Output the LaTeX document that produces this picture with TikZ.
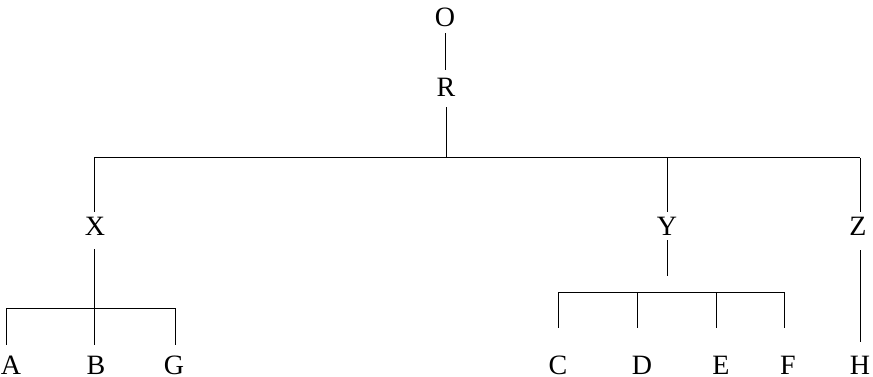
\documentclass[tikz,border=0pt]{standalone}
\usepackage{fontspec}
\setmainfont{Liberation Serif}
\begin{document}
\begin{tikzpicture}[x=1pt,y=-1pt,
  lbl/.style={anchor=base, inner sep=0pt, font=\fontsize{28}{30}\selectfont},
  ln/.style={line width=1pt}]
\useasboundingbox (0,0) rectangle (873,377);
% labels
\node[lbl] (O) at (445,27) {O};
\node[lbl] (R) at (446,97) {R};
\node[lbl] (X) at (95,235) {X};
\node[lbl] (Y) at (667,235) {Y};
\node[lbl] (Z) at (858,235) {Z};
\node[lbl] (A) at (11,374) {A};
\node[lbl] (B) at (96,374) {B};
\node[lbl] (G) at (174,374) {G};
\node[lbl] (C) at (558,374) {C};
\node[lbl] (D) at (642,374) {D};
\node[lbl] (E) at (721,374) {E};
\node[lbl] (F) at (788,374) {F};
\node[lbl] (H) at (860,374) {H};
% junctions
\coordinate (jR) at (446,158);
\coordinate (hL) at (94,158);
\coordinate (jY) at (667,158);
\coordinate (hR) at (860,158);
\coordinate (xB) at (94,308);
\coordinate (xL) at (6,308);
\coordinate (xR) at (175,308);
\coordinate (yEnd) at (667,276);
\coordinate (yL) at (558,292);
\coordinate (yD) at (637,292);
\coordinate (yE) at (716,292);
\coordinate (yR) at (784,292);
% connectors
\draw[ln, shorten <=6pt, shorten >=8.6pt] (O.south) -- (O.south |- R.north);
\draw[ln, shorten <=10pt] (R.south) -- (jR);
\draw[ln] (hL) -- (hR);
\draw[ln, shorten >=4.6pt] (hL) -- (hL |- X.north);
\draw[ln, shorten >=4.6pt] (jY) -- (jY |- Y.north);
\draw[ln, shorten >=4.6pt] (hR) -- (hR |- Z.north);
\draw[ln, shorten <=14pt] (xB |- X.south) -- (xB);
\draw[ln] (xL) -- (xR);
\draw[ln, shorten >=10.6pt] (xL) -- (xL |- A.north);
\draw[ln, shorten >=10.6pt] (xB) -- (xB |- B.north);
\draw[ln, shorten >=10.6pt] (xR) -- (xR |- G.north);
\draw[ln, shorten <=5pt] (Y.south) -- (yEnd);
\draw[ln] (yL) -- (yR);
\draw[ln, shorten >=27.6pt] (yL) -- (yL |- C.north);
\draw[ln, shorten >=27.6pt] (yD) -- (yD |- D.north);
\draw[ln, shorten >=27.6pt] (yE) -- (yE |- E.north);
\draw[ln, shorten >=27.6pt] (yR) -- (yR |- F.north);
\draw[ln, shorten <=15pt, shorten >=13.6pt] (hR |- Z.south) -- (hR |- H.north);
\end{tikzpicture}
\end{document}
